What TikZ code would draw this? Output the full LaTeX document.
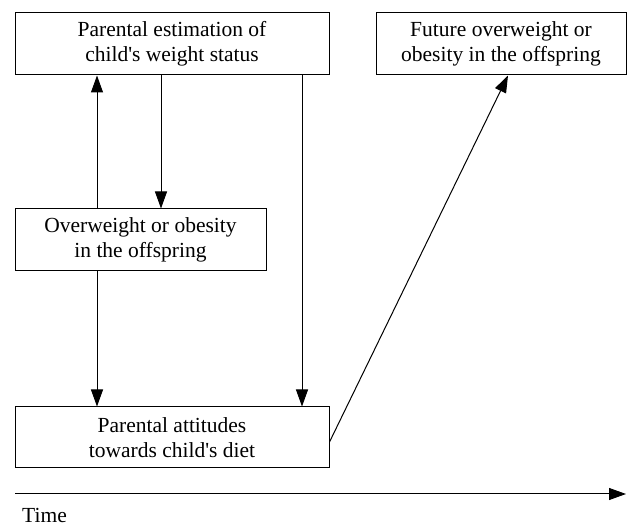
\documentclass[tikz,border=0pt]{standalone}
\usepackage{fontspec}
\setmainfont{Liberation Serif}
\usetikzlibrary{arrows.meta}
\begin{document}
\begin{tikzpicture}[x=1pt,y=-1pt,
  box/.style={draw,line width=1pt,inner sep=0pt,align=center,
    font=\fontsize{21.5}{25}\selectfont},
  arr/.style={line width=1pt,-{Triangle[length=17pt,width=12pt]}}]
\useasboundingbox (0,0) rectangle (627,526);
\node[box,minimum width=314pt,minimum height=62pt] (b1) at (172,44)
  {Parental estimation of\\child\textquotesingle s weight status};
\node[box,minimum width=250pt,minimum height=62pt] (b4) at (501,44)
  {Future overweight or\\obesity in the offspring};
\node[box,minimum width=251pt,minimum height=62pt] (b2) at (140.5,240)
  {Overweight or obesity\\in the offspring};
\node[box,minimum width=314pt,minimum height=61pt] (b3) at (172,437.5)
  {Parental attitudes\\towards child\textquotesingle s diet};
\coordinate (xa) at (97,0);
\coordinate (xb) at (161,0);
\coordinate (xc) at (302,0);
\coordinate (xd) at (508,0);
\draw[arr] (b2.north -| xa) -- (b1.south -| xa);
\draw[arr] (b1.south -| xb) -- (b2.north -| xb);
\draw[arr] (b2.south -| xa) -- (b3.north -| xa);
\draw[arr] (b1.south -| xc) -- (b3.north -| xc);
\draw[arr] ([yshift=-4.5pt]b3.east) -- (b4.south -| xd);
\coordinate (t0) at (15,494);
\coordinate (t1) at (626,494);
\draw[arr] (t0) -- (t1);
\node[anchor=west,inner sep=0pt,font=\fontsize{21.5}{25}\selectfont] (time) at (22,515.5) {Time};
\end{tikzpicture}
\end{document}
